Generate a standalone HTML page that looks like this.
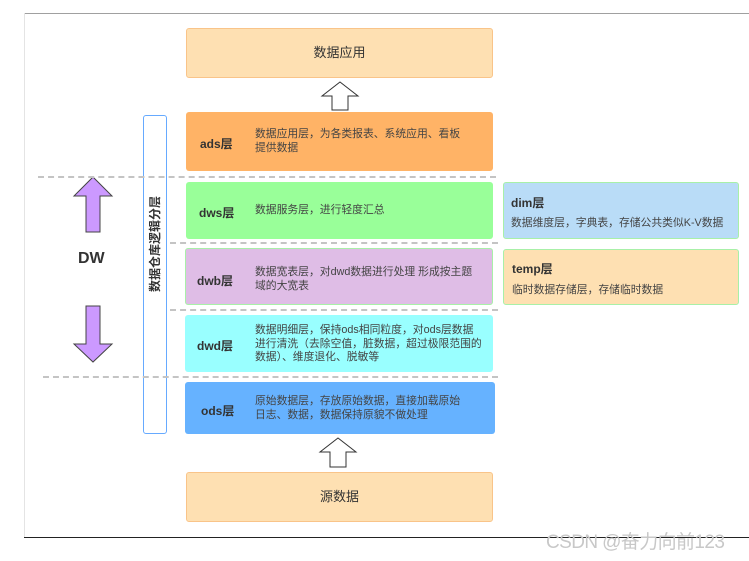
<!DOCTYPE html>
<html><head><meta charset="utf-8"><style>
body{margin:0;width:749px;height:561px;background:#fff;position:relative;overflow:hidden;font-family:"Liberation Sans","Noto Sans CJK SC",sans-serif;color:#333}
.b{position:absolute;box-sizing:border-box;border-radius:3px}
.l{position:absolute;font-weight:bold;font-size:12px;color:#333}
.d{position:absolute;font-size:10.8px;line-height:13.5px;color:#444}
.dash{position:absolute;height:0;border-top:2px dashed #c4c4c4}
</style></head><body>
<div style="position:absolute;left:24px;top:13px;width:725px;height:1px;background:#a0a0a0"></div>
<div style="position:absolute;left:24px;top:13px;width:1px;height:524px;background:#e4e4e4"></div>
<div style="position:absolute;left:24px;top:537px;width:725px;height:1px;background:#222"></div>

<div class="b" style="left:186px;top:28px;width:307px;height:50px;background:#fee0b2;border:1px solid #f9c489;text-align:center;line-height:48px;font-size:13px">数据应用</div>
<div class="b" style="left:186px;top:472px;width:307px;height:50px;background:#fee0b2;border:1px solid #f9c489;text-align:center;line-height:48px;font-size:13px">源数据</div>

<svg style="position:absolute;left:0;top:0" width="749" height="561">
<polygon points="340,82 358,96 348,96 348,110 332,110 332,96 322,96" fill="#fff" stroke="#333" stroke-width="1"/>
<polygon points="338,438 356,452 346,452 346,467 330,467 330,452 320,452" fill="#fff" stroke="#333" stroke-width="1"/>
<polygon points="93,177 112,196 100,196 100,232 86,232 86,196 74,196" fill="#cc99ff" stroke="#444" stroke-width="1"/>
<polygon points="86,306 100,306 100,344 112,344 93,362 74,344 86,344" fill="#cc99ff" stroke="#444" stroke-width="1"/>
</svg>
<div style="position:absolute;left:78px;top:250px;font-weight:bold;font-size:16px;color:#333">DW</div>

<div class="b" style="left:143px;top:115px;width:24px;height:319px;border:1.5px solid #66aaff;background:#fff"></div>
<div style="position:absolute;left:105px;top:236px;width:100px;height:16px;transform:rotate(-90deg);text-align:center;font-size:12px;font-weight:bold;color:#333;line-height:16px">数据仓库逻辑分层</div>

<div class="dash" style="left:38px;top:176px;width:458px"></div>
<div class="dash" style="left:170px;top:242px;width:328px"></div>
<div class="dash" style="left:170px;top:309px;width:328px"></div>
<div class="dash" style="left:43px;top:376px;width:455px"></div>

<div class="b" style="left:186px;top:112px;width:307px;height:59px;background:#ffb366"></div>
<div class="l" style="left:200px;top:135px">ads层</div>
<div class="d" style="left:255px;top:128px">数据应用层，为各类报表、系统应用、看板<br>提供数据</div>

<div class="b" style="left:186px;top:182px;width:307px;height:57px;background:#99ff99"></div>
<div class="l" style="left:199px;top:204px">dws层</div>
<div class="d" style="left:255px;top:204px">数据服务层，进行轻度汇总</div>

<div class="b" style="left:185px;top:248px;width:308px;height:57px;background:#dfbde6;border:1px solid #a8f0a8"></div>
<div class="l" style="left:197px;top:272px">dwb层</div>
<div class="d" style="left:255px;top:266px">数据宽表层，对dwd数据进行处理 形成按主题<br>域的大宽表</div>

<div class="b" style="left:185px;top:315px;width:308px;height:57px;background:#99ffff"></div>
<div class="l" style="left:197px;top:337px">dwd层</div>
<div class="d" style="left:255px;top:324px">数据明细层，保持ods相同粒度，对ods层数据<br>进行清洗（去除空值，脏数据，超过极限范围的<br>数据）、维度退化、脱敏等</div>

<div class="b" style="left:185px;top:382px;width:310px;height:52px;background:#66b2ff"></div>
<div class="l" style="left:201px;top:402px">ods层</div>
<div class="d" style="left:255px;top:395px">原始数据层，存放原始数据，直接加载原始<br>日志、数据，数据保持原貌不做处理</div>

<div class="b" style="left:503px;top:182px;width:236px;height:57px;background:#b9dcf7;border:1px solid #a8f0a8"></div>
<div class="l" style="left:511px;top:194px">dim层</div>
<div class="d" style="left:511px;top:217px">数据维度层，字典表，存储公共类似K-V数据</div>

<div class="b" style="left:503px;top:249px;width:236px;height:56px;background:#fee0b2;border:1px solid #a8f0a8"></div>
<div class="l" style="left:512px;top:260px">temp层</div>
<div class="d" style="left:512px;top:284px">临时数据存储层，存储临时数据</div>

<div style="position:absolute;left:546px;top:527px;font-size:19px;color:#c8c8c8;letter-spacing:-0.6px">CSDN @奋力向前123</div>
</body></html>
